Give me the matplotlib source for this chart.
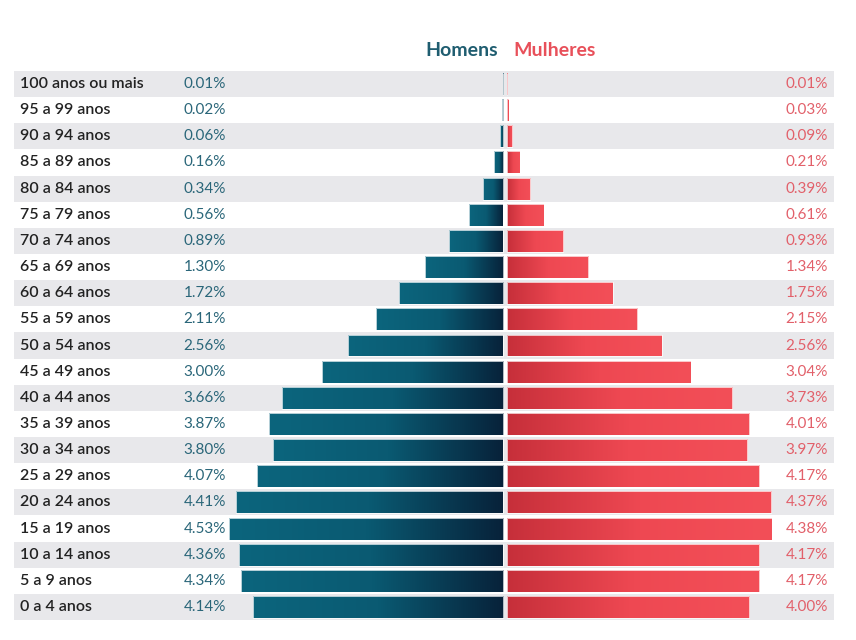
import numpy as np
import matplotlib.pyplot as plt
from matplotlib.colors import LinearSegmentedColormap
from matplotlib.patches import Rectangle

# Age groups, bottom to top
age_groups = [
    "0 a 4 anos", "5 a 9 anos", "10 a 14 anos", "15 a 19 anos", "20 a 24 anos",
    "25 a 29 anos", "30 a 34 anos", "35 a 39 anos", "40 a 44 anos", "45 a 49 anos",
    "50 a 54 anos", "55 a 59 anos", "60 a 64 anos", "65 a 69 anos", "70 a 74 anos",
    "75 a 79 anos", "80 a 84 anos", "85 a 89 anos", "90 a 94 anos", "95 a 99 anos",
    "100 anos ou mais",
]
homens = [4.14, 4.34, 4.36, 4.53, 4.41, 4.07, 3.80, 3.87, 3.66, 3.00,
          2.56, 2.11, 1.72, 1.30, 0.89, 0.56, 0.34, 0.16, 0.06, 0.02, 0.01]
mulheres = [4.00, 4.17, 4.17, 4.38, 4.37, 4.17, 3.97, 4.01, 3.73, 3.04,
            2.56, 2.15, 1.75, 1.34, 0.93, 0.61, 0.39, 0.21, 0.09, 0.03, 0.01]

BLUE_TXT = "#2a6679"
RED_TXT = "#e2606a"
blue_cmap = LinearSegmentedColormap.from_list("b", ["#0c657d", "#0a5a72", "#07223a"])
red_cmap = LinearSegmentedColormap.from_list("r", ["#c62f3a", "#ee4852", "#f34f58"])

plt.rcParams["font.family"] = ["Lato", "DejaVu Sans"]

fig = plt.figure(figsize=(8.56, 6.4), dpi=100)
ax = fig.add_axes([0, 0, 1, 1])
# pixel x = 505 + 60.5 * value ; pixel y = 607 - 26.15 * row
PX = 60.5
ax.axis("off")

n = len(age_groups)
grad = np.linspace(0, 1, 256).reshape(1, -1)
bar_h = 0.84
gap = 0.03

for i in range(n):
    if (n - 1 - i) % 2 == 0:
        ax.axhspan(i - 0.5, i + 0.5, xmin=14 / 856, xmax=834 / 856,
                   color="#e8e8eb", lw=0, zorder=0)

    # men bar, gradient teal -> navy toward center
    x0, x1 = -homens[i] - gap, -gap
    rect = Rectangle((x0, i - bar_h / 2), x1 - x0, bar_h, facecolor="none",
                     edgecolor="white", lw=0.5, zorder=3)
    ax.add_patch(rect)
    im = ax.imshow(grad, cmap=blue_cmap, aspect="auto", zorder=2,
                   extent=[x0, x1, i - bar_h / 2, i + bar_h / 2])
    im.set_clip_path(rect)

    # women bar, gradient dark red -> light red outward
    x0, x1 = gap, mulheres[i] + gap
    rect = Rectangle((x0, i - bar_h / 2), x1 - x0, bar_h, facecolor="none",
                     edgecolor="white", lw=0.5, zorder=3)
    ax.add_patch(rect)
    im = ax.imshow(grad, cmap=red_cmap, aspect="auto", zorder=2,
                   extent=[x0, x1, i - bar_h / 2, i + bar_h / 2])
    im.set_clip_path(rect)

    ax.text(-485 / PX, i, age_groups[i], ha="left", va="center",
            fontsize=11.5, color="#222222", fontweight="semibold")
    ax.text((226 - 505) / PX, i, f"{homens[i]:.2f}%", ha="right", va="center",
            fontsize=11, color=BLUE_TXT)
    ax.text((828 - 505) / PX, i, f"{mulheres[i]:.2f}%", ha="right", va="center",
            fontsize=11, color=RED_TXT)

ax.set_xlim(-505 / PX, (856 - 505) / PX)
ax.set_ylim((607 - 640) / 26.15, 607 / 26.15)

legend_y = (607 - 51) / 26.15
ax.text((498 - 505) / PX, legend_y, "Homens", ha="right", va="center",
        fontsize=14, fontweight="bold", color="#1f5d70")
ax.text((513 - 505) / PX, legend_y, "Mulheres", ha="left", va="center",
        fontsize=14, fontweight="bold", color="#e8505a")

fig.savefig("out.png", dpi=100)
